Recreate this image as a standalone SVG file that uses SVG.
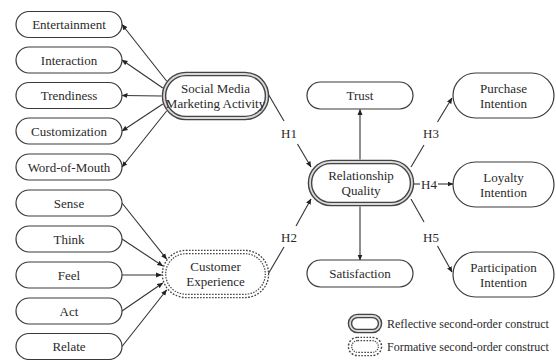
<svg xmlns="http://www.w3.org/2000/svg" width="556" height="360" viewBox="0 0 556 360">
<style>
  .box { fill: #fff; stroke: #3a3a3a; stroke-width: 1.2; }
  .dbl-out { fill: #fff; stroke: #444; stroke-width: 4.6; }
  .dbl-in { fill: none; stroke: #d8d8d8; stroke-width: 1.8; }
  .dot-out { fill: #fff; stroke: #444; stroke-width: 4.6; stroke-dasharray: 1.6 1.4; }
  .dot-in { fill: none; stroke: #fff; stroke-width: 2; }
  .t { font-family: "Liberation Serif", "Times New Roman", serif; font-size: 13px; fill: #2a2a2a; text-anchor: middle; }
  .lg { font-family: "Liberation Serif", "Times New Roman", serif; font-size: 12px; fill: #2a2a2a; }
  .c { fill: none; stroke: #333; stroke-width: 1.1; }
</style>
<defs>
  <marker id="ah" markerWidth="6" markerHeight="6" refX="5.5" refY="3" orient="auto" markerUnits="userSpaceOnUse">
    <path d="M0,0.5 L6,3 L0,5.5 z" fill="#222"/>
  </marker>
</defs>
<rect width="556" height="360" fill="#fff"/>

<g id="connectors">
  <line class="c" x1="166.6" y1="81" x2="122" y2="24.5" marker-end="url(#ah)"/>
  <line class="c" x1="162.8" y1="88" x2="122" y2="60" marker-end="url(#ah)"/>
  <line class="c" x1="161.5" y1="96" x2="122" y2="95.5" marker-end="url(#ah)"/>
  <line class="c" x1="162.8" y1="104" x2="122" y2="131" marker-end="url(#ah)"/>
  <line class="c" x1="166.6" y1="111" x2="122" y2="167" marker-end="url(#ah)"/>
  <line class="c" x1="122" y1="203" x2="166.6" y2="259" marker-end="url(#ah)"/>
  <line class="c" x1="122" y1="239" x2="162.8" y2="266" marker-end="url(#ah)"/>
  <line class="c" x1="122" y1="275" x2="161.5" y2="275" marker-end="url(#ah)"/>
  <line class="c" x1="122" y1="311" x2="162.8" y2="283" marker-end="url(#ah)"/>
  <line class="c" x1="122" y1="346.5" x2="166.6" y2="290" marker-end="url(#ah)"/>
  <line class="c" x1="267" y1="92" x2="284" y2="121"/>
  <line class="c" x1="297.5" y1="144" x2="311" y2="167" marker-end="url(#ah)"/>
  <text class="t" x="289" y="137.5">H1</text>
  <line class="c" x1="267" y1="276" x2="284" y2="247"/>
  <line class="c" x1="296" y1="226" x2="311" y2="199" marker-end="url(#ah)"/>
  <text class="t" x="289" y="241.5">H2</text>
  <line class="c" x1="360" y1="159.5" x2="360" y2="109.5" marker-end="url(#ah)"/>
  <line class="c" x1="360" y1="206.5" x2="360" y2="260" marker-end="url(#ah)"/>
  <line class="c" x1="411" y1="167" x2="424" y2="145"/>
  <line class="c" x1="437.5" y1="122" x2="452" y2="98" marker-end="url(#ah)"/>
  <text class="t" x="431" y="137.5">H3</text>
  <line class="c" x1="414" y1="184" x2="420" y2="184"/>
  <line class="c" x1="438" y1="184" x2="453" y2="184" marker-end="url(#ah)"/>
  <text class="t" x="429" y="188.5">H4</text>
  <line class="c" x1="411" y1="199" x2="424" y2="222"/>
  <line class="c" x1="437.5" y1="246" x2="452" y2="272" marker-end="url(#ah)"/>
  <text class="t" x="431" y="241.5">H5</text>
</g>

<g id="entertainment"><rect class="box" x="16" y="11.5" width="106" height="26" rx="13"/><text class="t" x="69" y="29">Entertainment</text></g>
<g id="interaction"><rect class="box" x="16" y="47" width="106" height="26" rx="13"/><text class="t" x="69" y="64.5">Interaction</text></g>
<g id="trendiness"><rect class="box" x="16" y="82.5" width="106" height="26" rx="13"/><text class="t" x="69" y="100">Trendiness</text></g>
<g id="customization"><rect class="box" x="16" y="118" width="106" height="26" rx="13"/><text class="t" x="69" y="135.5">Customization</text></g>
<g id="word-of-mouth"><rect class="box" x="16" y="154" width="106" height="26" rx="13"/><text class="t" x="69" y="171.5">Word-of-Mouth</text></g>
<g id="sense"><rect class="box" x="16" y="190" width="106" height="26" rx="13"/><text class="t" x="69" y="207.5">Sense</text></g>
<g id="think"><rect class="box" x="16" y="226" width="106" height="26" rx="13"/><text class="t" x="69" y="243.5">Think</text></g>
<g id="feel"><rect class="box" x="16" y="262" width="106" height="26" rx="13"/><text class="t" x="69" y="279.5">Feel</text></g>
<g id="act"><rect class="box" x="16" y="298" width="106" height="26" rx="13"/><text class="t" x="69" y="315.5">Act</text></g>
<g id="relate"><rect class="box" x="16" y="333.5" width="106" height="26" rx="13"/><text class="t" x="69" y="351">Relate</text></g>

<g id="smma">
  <rect class="dbl-out" x="164" y="74" width="103" height="44" rx="22"/>
  <rect class="dbl-in" x="164" y="74" width="103" height="44" rx="22"/>
  <text class="t" x="215.5" y="93">Social Media</text>
  <text class="t" x="215.5" y="108">Marketing Activity</text>
</g>
<g id="customer-experience">
  <rect class="dot-out" x="164" y="252" width="103" height="44" rx="22"/>
  <rect class="dot-in" x="164" y="252" width="103" height="44" rx="22"/>
  <text class="t" x="215.5" y="271">Customer</text>
  <text class="t" x="215.5" y="286">Experience</text>
</g>
<g id="relationship-quality">
  <rect class="dbl-out" x="310" y="162" width="102" height="42" rx="21"/>
  <rect class="dbl-in" x="310" y="162" width="102" height="42" rx="21"/>
  <text class="t" x="361" y="180">Relationship</text>
  <text class="t" x="361" y="195">Quality</text>
</g>
<g id="trust"><rect class="box" x="307" y="82" width="106" height="27" rx="13.5"/><text class="t" x="360" y="100">Trust</text></g>
<g id="satisfaction"><rect class="box" x="307" y="260" width="106" height="27" rx="13.5"/><text class="t" x="360" y="278">Satisfaction</text></g>
<g id="purchase-intention"><rect class="box" x="453" y="73" width="101" height="45" rx="22.5"/><text class="t" x="503.5" y="92.5">Purchase</text><text class="t" x="503.5" y="107.5">Intention</text></g>
<g id="loyalty-intention"><rect class="box" x="453" y="162" width="101" height="45" rx="22.5"/><text class="t" x="503.5" y="181.5">Loyalty</text><text class="t" x="503.5" y="196.5">Intention</text></g>
<g id="participation-intention"><rect class="box" x="453" y="252" width="101" height="45" rx="22.5"/><text class="t" x="503.5" y="271.5">Participation</text><text class="t" x="503.5" y="286.5">Intention</text></g>

<g id="legend">
  <rect class="dbl-out" x="350" y="316" width="30" height="15" rx="7.5"/>
  <rect class="dbl-in" x="350" y="316" width="30" height="15" rx="7.5"/>
  <text class="lg" x="387" y="328">Reflective second-order construct</text>
  <rect class="dot-out" x="350" y="339" width="30" height="15" rx="7.5"/>
  <rect class="dot-in" x="350" y="339" width="30" height="15" rx="7.5"/>
  <text class="lg" x="387" y="351">Formative second-order construct</text>
</g>
</svg>
